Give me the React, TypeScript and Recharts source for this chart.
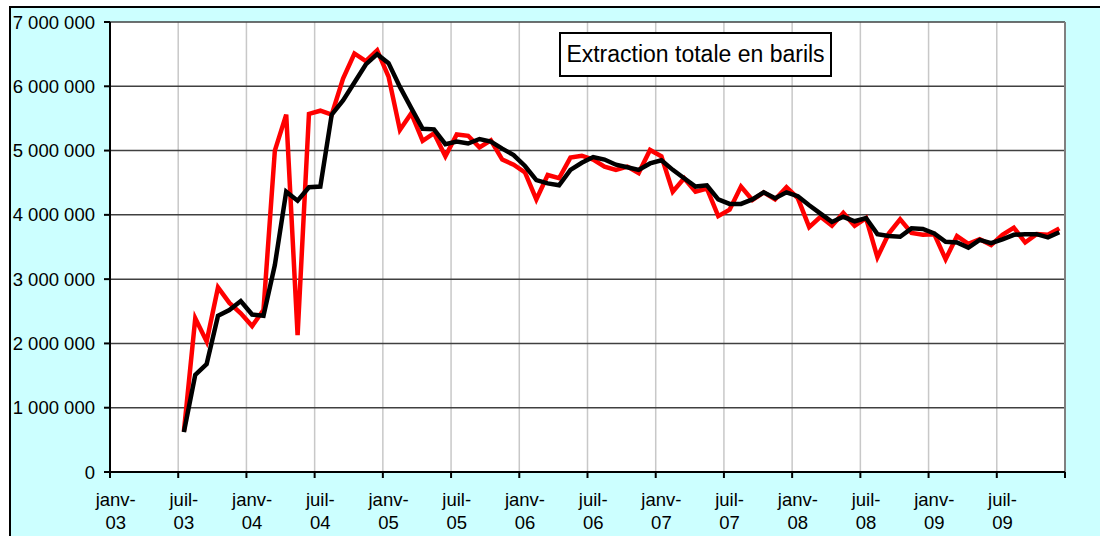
import { LineChart, Line, XAxis, YAxis, CartesianGrid, ReferenceLine } from "recharts";

const FONT = '"Liberation Sans", Arial, sans-serif';
const FONT_SIZE = 18.5;

// plot box in page pixels
const PLOT_LEFT = 110;
const PLOT_TOP = 22;
const PLOT_RIGHT = 1065;
const PLOT_BOTTOM = 472;
const MONTHS = 84; // janv-03 .. déc-09
const MONTH_W = (PLOT_RIGHT - PLOT_LEFT) / MONTHS;

// x tick labels, one every 6 months
const tickLabels = [
  ["janv-", "03"], ["juil-", "03"],
  ["janv-", "04"], ["juil-", "04"],
  ["janv-", "05"], ["juil-", "05"],
  ["janv-", "06"], ["juil-", "06"],
  ["janv-", "07"], ["juil-", "07"],
  ["janv-", "08"], ["juil-", "08"],
  ["janv-", "09"], ["juil-", "09"],
];
const xTicks = [0, 6, 12, 18, 24, 30, 36, 42, 48, 54, 60, 66, 72, 78, 84];
const yTicks = [0, 1000000, 2000000, 3000000, 4000000, 5000000, 6000000, 7000000];

// first month with data: juil-03
const FIRST_MONTH = 6;

// monthly extraction (barils), juil-03 .. déc-09
const extraction = [
  630000, 2390000, 2030000, 2870000, 2630000, 2470000,
  2270000, 2520000, 5000000, 5560000, 2130000, 5570000,
  5620000, 5560000, 6120000, 6510000, 6390000, 6560000,
  6150000, 5320000, 5580000, 5150000, 5270000, 4910000,
  5250000, 5230000, 5050000, 5160000, 4860000, 4780000,
  4660000, 4240000, 4620000, 4570000, 4890000, 4920000,
  4860000, 4750000, 4700000, 4750000, 4650000, 5010000,
  4910000, 4360000, 4570000, 4360000, 4410000, 3980000,
  4080000, 4440000, 4230000, 4350000, 4240000, 4430000,
  4260000, 3810000, 3970000, 3830000, 4030000, 3830000,
  3950000, 3340000, 3710000, 3930000, 3720000, 3690000,
  3700000, 3310000, 3670000, 3550000, 3620000, 3530000,
  3690000, 3800000, 3570000, 3700000, 3690000, 3790000,
];

// smoothed curve (barils), juil-03 .. déc-09
const smoothed = [
  620000, 1510000, 1680000, 2430000, 2520000, 2660000,
  2450000, 2430000, 3220000, 4360000, 4220000, 4430000,
  4440000, 5560000, 5780000, 6060000, 6340000, 6500000,
  6360000, 5990000, 5660000, 5340000, 5330000, 5100000,
  5140000, 5110000, 5180000, 5140000, 5030000, 4930000,
  4760000, 4540000, 4490000, 4460000, 4700000, 4810000,
  4900000, 4860000, 4780000, 4740000, 4700000, 4800000,
  4850000, 4700000, 4570000, 4440000, 4460000, 4240000,
  4170000, 4170000, 4240000, 4350000, 4260000, 4350000,
  4290000, 4150000, 4020000, 3890000, 3970000, 3900000,
  3950000, 3700000, 3670000, 3660000, 3790000, 3780000,
  3710000, 3580000, 3570000, 3490000, 3610000, 3560000,
  3620000, 3690000, 3700000, 3700000, 3650000, 3730000,
];

const data = extraction.map((v, i) => ({
  m: FIRST_MONTH + i + 0.5,
  extraction: v,
  smoothed: smoothed[i],
}));

const formatY = (v: number) => String(v).replace(/\B(?=(\d{3})+(?!\d))/g, " ");

function MonthTick(props: any) {
  const { x, y, payload } = props;
  const label = tickLabels[payload.value / 6];
  if (!label) return null;
  const cx = x + MONTH_W / 2;
  return (
    <text x={cx} y={y} textAnchor="middle" fontFamily={FONT} fontSize={FONT_SIZE} fill="#000">
      <tspan x={cx} dy={26}>{label[0]}</tspan>
      <tspan x={cx} dy={23}>{label[1]}</tspan>
    </text>
  );
}

export default function App() {
  return (
    <div style={{ position: "fixed", left: 0, top: 0, width: 1100, height: 536, background: "#fff", overflow: "hidden" }}>
      <div
        style={{
          position: "absolute",
          left: 9,
          top: 6,
          width: 1100,
          height: 540,
          background: "#CCFFFF",
          borderLeft: "2px solid #000",
          borderTop: "2px solid #000",
          boxSizing: "border-box",
        }}
      />
      <div style={{ position: "absolute", left: 0, top: 0 }}>
        <LineChart
          width={1100}
          height={536}
          data={data}
          margin={{ top: PLOT_TOP, right: 1100 - PLOT_RIGHT, bottom: 536 - PLOT_BOTTOM - 50, left: PLOT_LEFT - 100 }}
        >
          <CartesianGrid fill="#fff" horizontal={false} stroke="#c8c8c8" strokeWidth={1.5} />
          <CartesianGrid vertical={false} stroke="#404040" strokeWidth={1.5} />
          <ReferenceLine x={MONTHS} stroke="#808080" strokeWidth={2} />
          <XAxis
            type="number"
            dataKey="m"
            domain={[0, MONTHS]}
            ticks={xTicks}
            interval={0}
            height={50}
            tickSize={6}
            tickMargin={2}
            axisLine={{ stroke: "#000", strokeWidth: 2 }}
            tickLine={{ stroke: "#000", strokeWidth: 2 }}
            tick={<MonthTick />}
          />
          <YAxis
            domain={[0, 7000000]}
            ticks={yTicks}
            interval={0}
            width={100}
            tickSize={6}
            tickMargin={9}
            tickFormatter={formatY}
            axisLine={{ stroke: "#000", strokeWidth: 2 }}
            tickLine={{ stroke: "#000", strokeWidth: 2 }}
            tick={{ fill: "#000", fontFamily: FONT, fontSize: FONT_SIZE }}
          />
          <Line
            type="linear"
            dataKey="extraction"
            stroke="#ff0000"
            strokeWidth={4.5}
            dot={false}
            isAnimationActive={false}
          />
          <Line
            type="linear"
            dataKey="smoothed"
            stroke="#000"
            strokeWidth={4.5}
            dot={false}
            isAnimationActive={false}
          />
        </LineChart>
      </div>
      <div
        style={{
          position: "absolute",
          left: 559,
          top: 32,
          width: 273,
          height: 45,
          boxSizing: "border-box",
          border: "2px solid #000",
          background: "#fff",
          fontFamily: FONT,
          fontSize: 23,
          lineHeight: "41px",
          textAlign: "center",
          color: "#000",
          whiteSpace: "nowrap",
        }}
      >
        Extraction totale en barils
      </div>
    </div>
  );
}
